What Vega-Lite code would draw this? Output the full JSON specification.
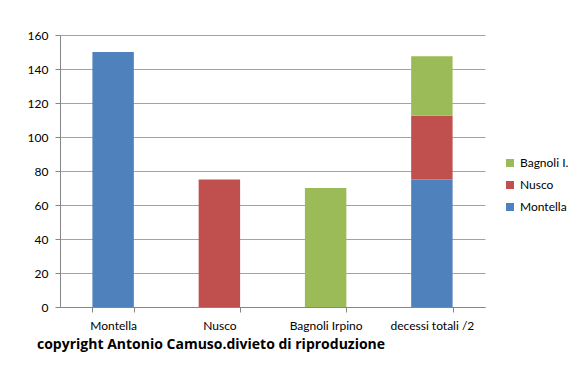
{
  "$schema": "https://vega.github.io/schema/vega-lite/v6.json",
  "width": 425,
  "height": 272,
  "autosize": {"type": "none"},
  "padding": {"left": 60, "top": 35, "right": 96, "bottom": 61},
  "background": "white",
  "title": {
    "text": "copyright Antonio Camuso.divieto di riproduzione",
    "orient": "bottom",
    "anchor": "start",
    "frame": "group",
    "dx": -23,
    "offset": 7,
    "font": "Open Sans",
    "fontSize": 14,
    "fontWeight": "bold",
    "color": "#000000"
  },
  "data": {
    "values": [
      {"luogo": "Montella", "serie": "Montella", "valore": 150, "ord": 1},
      {"luogo": "Nusco", "serie": "Nusco", "valore": 75, "ord": 2},
      {"luogo": "Bagnoli Irpino", "serie": "Bagnoli I.", "valore": 70, "ord": 3},
      {"luogo": "decessi totali /2", "serie": "Montella", "valore": 75, "ord": 1},
      {"luogo": "decessi totali /2", "serie": "Nusco", "valore": 37.5, "ord": 2},
      {"luogo": "decessi totali /2", "serie": "Bagnoli I.", "valore": 35, "ord": 3}
    ]
  },
  "mark": {"type": "bar"},
  "encoding": {
    "x": {
      "field": "luogo",
      "type": "nominal",
      "sort": ["Montella", "Nusco", "Bagnoli Irpino", "decessi totali /2"],
      "scale": {"paddingInner": 0.61, "paddingOuter": 0.305},
      "axis": {
        "title": null,
        "labelAngle": 0,
        "labelFont": "Lato",
        "labelFontSize": 12,
        "labelColor": "#000000",
        "labelPadding": 8,
        "tickBand": "extent",
        "tickSize": 5,
        "tickColor": "#868686",
        "domainColor": "#868686",
        "grid": false
      }
    },
    "y": {
      "field": "valore",
      "type": "quantitative",
      "stack": "zero",
      "scale": {"domain": [0, 160], "nice": false},
      "axis": {
        "title": null,
        "values": [0, 20, 40, 60, 80, 100, 120, 140, 160],
        "labelFont": "Lato",
        "labelFontSize": 12,
        "labelColor": "#000000",
        "labelPadding": 7,
        "tickSize": 5,
        "tickColor": "#868686",
        "domainColor": "#868686",
        "gridColor": "#8c8c8c",
        "gridOpacity": 0.8
      }
    },
    "color": {
      "field": "serie",
      "type": "nominal",
      "scale": {
        "domain": ["Bagnoli I.", "Nusco", "Montella"],
        "range": ["#9BBB59", "#C0504D", "#4F81BD"]
      },
      "legend": {
        "title": null,
        "orient": "none",
        "legendX": 444,
        "legendY": 122,
        "symbolType": "square",
        "symbolSize": 64,
        "symbolStrokeWidth": 0,
        "labelFont": "Lato",
        "labelFontSize": 12,
        "labelColor": "#000000",
        "rowPadding": 10,
        "labelOffset": 4
      }
    },
    "order": {"field": "ord", "type": "quantitative", "sort": "ascending"}
  },
  "config": {
    "view": {"stroke": null}
  }
}
